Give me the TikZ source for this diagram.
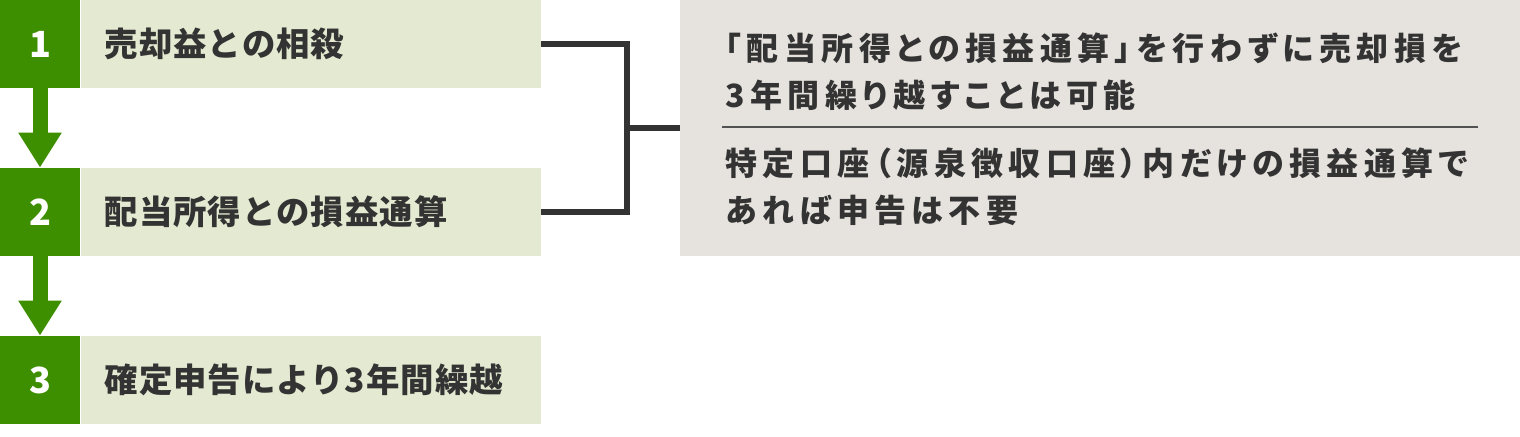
\documentclass[tikz,border=0pt]{standalone}
\usepackage{fontspec}
\setmainfont{Noto Sans CJK JP}
\newfontfamily\jpwide{Noto Sans CJK JP}[LetterSpace=17,RawFeature=+palt]
\newfontfamily\jpstep{Noto Sans CJK JP}[LetterSpace=3]
\usepackage{tikz}
\usetikzlibrary{arrows.meta,positioning}
\definecolor{stepgreen}{RGB}{62,143,0}
\definecolor{steplight}{RGB}{228,234,209}
\definecolor{notegray}{RGB}{230,226,222}
\definecolor{inkgray}{RGB}{51,51,51}
\tikzset{
  stepnum/.style={fill=stepgreen,text=white,minimum width=40pt,minimum height=44pt,inner sep=0pt,font=\fontsize{18pt}{18pt}\selectfont\bfseries},
  steptext/.style={fill=steplight,text=inkgray,anchor=west,text width=206pt,inner xsep=12pt,inner ysep=0pt,minimum height=44pt,align=left,font=\jpstep\fontsize{16.7pt}{16.7pt}\selectfont\bfseries},
  steparrow/.style={stepgreen,line width=7.5pt,-{Triangle[width=20.5pt,length=17.5pt]}},
  bracketline/.style={inkgray,line width=3pt,line join=miter},
  notetext/.style={text=inkgray,anchor=west,inner sep=0pt,align=left,font=\jpwide\fontsize{16pt}{23.5pt}\selectfont\bfseries}
}
\begin{document}
\begin{tikzpicture}[x=0.5pt,y=-0.5pt]
\useasboundingbox (0,0) rectangle (1520,436);
\node[stepnum] (n1) at (40,44) {1};
\node[stepnum] (n2) at (40,212) {2};
\node[stepnum] (n3) at (40,380) {3};
\node[steptext] (t1) at (n1.east) {売却益との相殺};
\node[steptext] (t2) at (n2.east) {配当所得との損益通算};
\node[steptext] (t3) at (n3.east) {確定申告により3年間繰越};

\draw [steparrow] (n1.south) -- (n2.north);
\draw [steparrow] (n2.south) -- (n3.north);

\node[fill=notegray,anchor=west,minimum width=420pt,minimum height=128pt,inner sep=0pt] (note) at (680,128) {};
\coordinate (join) at (627,128);
\draw [bracketline] (t1.east) -| (join) |- (t2.east);
\draw [bracketline] (join) -- (note.west);

\node[notetext] (p1) at (725,71.5) {「配当所得との損益通算」を行わずに売却損を\\3年間繰り越すことは可能};
\node[notetext] (p2) at (725,186.5) {特定口座（源泉徴収口座）内だけの損益通算で\\あれば申告は不要};
\draw [inkgray!85,line width=1pt] (722,127) -- (1478,127);
\end{tikzpicture}
\end{document}
